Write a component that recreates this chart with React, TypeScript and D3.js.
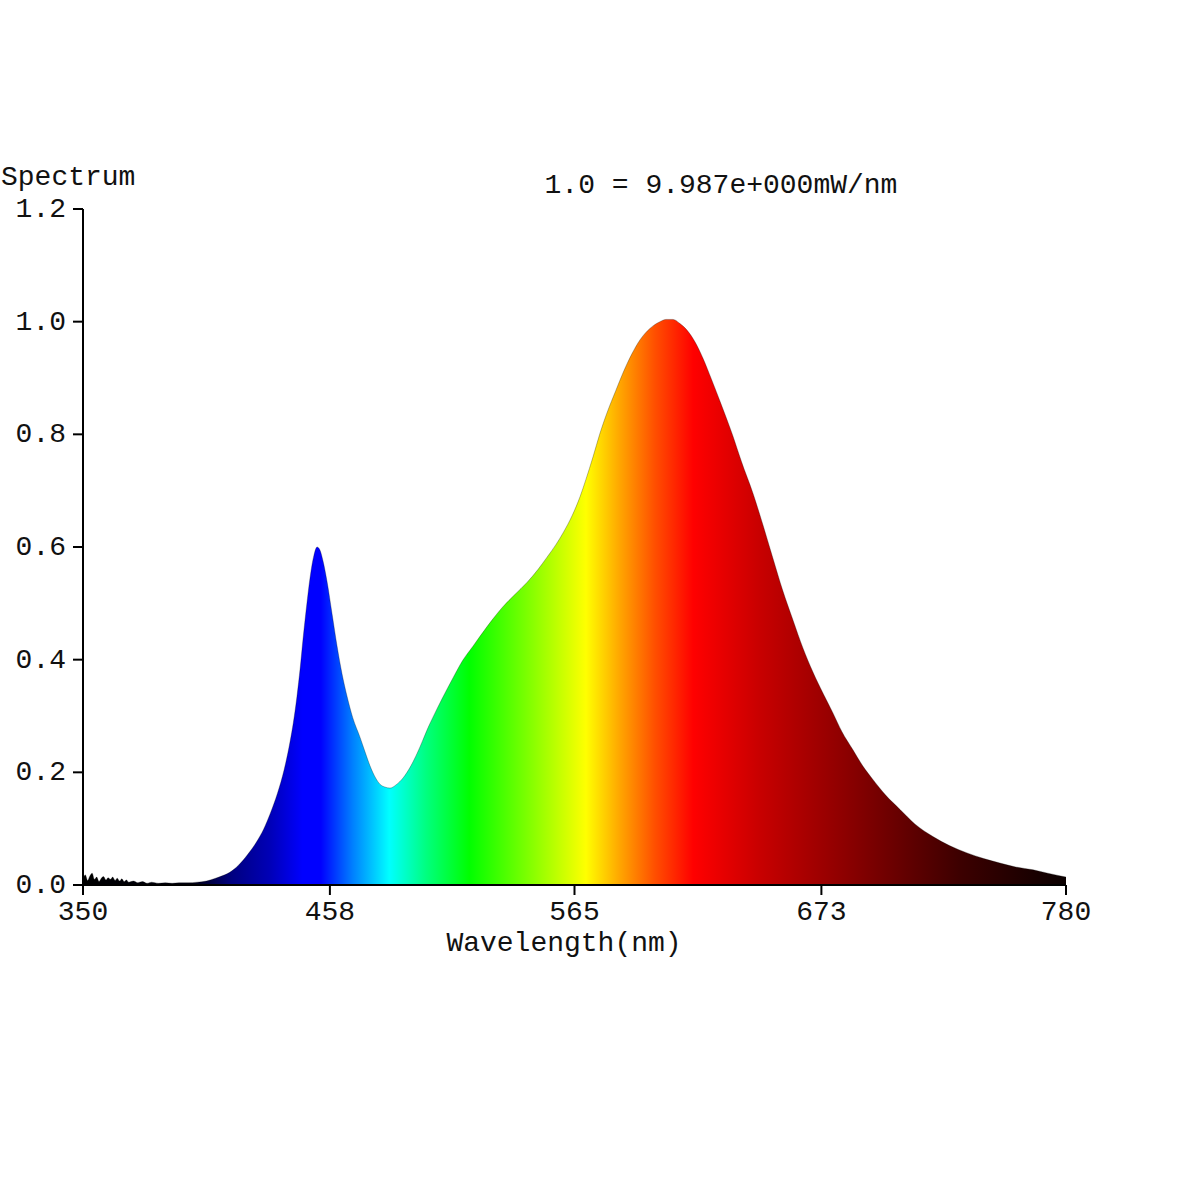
import React from "react";
import * as d3 from "d3";

const wavelengths: number[] = [
  350, 351, 352, 353, 354, 355, 356, 357, 358, 359, 360, 361, 362, 363, 364, 365, 366, 367, 368, 369, 370,
  372, 374, 376, 378, 380, 383, 386, 389, 392, 396, 400, 404, 408, 412, 414, 418, 422, 426, 429, 432, 435,
  438, 440.6, 442, 443.6, 445, 446.2, 447.8, 449.3, 451, 452.4, 453.6, 455, 456.7, 459, 461.1, 463.3, 465.5,
  468, 471.2, 473.4, 475.5, 478, 479.9, 482, 484.3, 487, 490, 493.5, 497.4, 501, 503.1, 507, 511.9, 516,
  520.6, 527, 533.7, 539, 544.2, 549, 553, 557, 560, 564, 567.4, 570, 573.1, 576, 579.2, 583, 586.2, 590,
  593.7, 598, 602.4, 605, 608.1, 611, 614.2, 618, 621.2, 625, 629, 634.3, 638, 643.1, 647, 651.8, 656,
  660.6, 665, 669.3, 674, 678.1, 682, 686.8, 691, 695.6, 701, 707.4, 714, 721.8, 729, 736.7, 744, 751.1,
  758, 765.6, 772, 780,
];

const intensity: number[] = [
  0.010, 0.018, 0.008, 0.016, 0.021, 0.010, 0.014, 0.006, 0.012, 0.015, 0.009, 0.013, 0.010, 0.014, 0.008,
  0.012, 0.007, 0.011, 0.006, 0.009, 0.005,
  0.007, 0.004, 0.006, 0.003, 0.005, 0.003, 0.004, 0.003, 0.004, 0.004, 0.005, 0.007, 0.012, 0.018, 0.022,
  0.035, 0.054, 0.077, 0.099, 0.128, 0.162,
  0.205, 0.255, 0.288, 0.335, 0.385, 0.435, 0.495, 0.545, 0.585, 0.600, 0.595, 0.575, 0.540, 0.480, 0.425,
  0.375, 0.335,
  0.297, 0.262, 0.236, 0.212, 0.190, 0.179, 0.174, 0.172, 0.178, 0.190, 0.212, 0.245, 0.280, 0.298, 0.330,
  0.368, 0.398,
  0.424, 0.460, 0.494, 0.516, 0.537, 0.560, 0.582, 0.605, 0.625, 0.656, 0.689, 0.720, 0.760, 0.800, 0.838,
  0.877, 0.909, 0.942,
  0.968, 0.988, 1.000, 1.004, 1.004, 0.997, 0.985, 0.962, 0.935, 0.897, 0.855, 0.797, 0.752, 0.695, 0.645,
  0.580, 0.524,
  0.470, 0.420, 0.378, 0.338, 0.305, 0.272, 0.240, 0.212, 0.187, 0.160, 0.134, 0.108, 0.086, 0.070, 0.057,
  0.047, 0.039,
  0.032, 0.027, 0.021, 0.014,
];

const xTicks: number[] = [350, 458, 565, 673, 780];
const yTicks: number[] = [0.0, 0.2, 0.4, 0.6, 0.8, 1.0, 1.2];

const colorStopWl: number[] = [350, 398, 415, 432, 446, 454, 468, 484, 500, 519, 545, 570, 585, 600, 617, 646, 690, 734, 780];
const colorStopHex: string[] = [
  "#000000", "#000010", "#000080", "#0000b8", "#0000ff", "#0000ff", "#0080ff", "#00ffff", "#00ff80",
  "#00ff00", "#80ff00", "#ffff00", "#ffa500", "#ff5000", "#ff0000", "#c80000", "#820000", "#3c0000", "#0a0000",
];

const titleText = "1.0 = 9.987e+000mW/nm";
const yLabel = "Spectrum";
const xLabel = "Wavelength(nm)";

export default function App() {
  const W = 1200;
  const H = 1200;
  const x = d3.scaleLinear().domain([350, 780]).range([83, 1066]);
  const y = d3.scaleLinear().domain([0, 1.2]).range([885, 209]);
  const data = wavelengths.map((w, i) => ({ w, v: intensity[i] }));
  const area = d3
    .area<{ w: number; v: number }>()
    .x((d) => x(d.w))
    .y0(y(0))
    .y1((d) => y(d.v))
    .curve(d3.curveMonotoneX);
  const line = d3
    .line<{ w: number; v: number }>()
    .x((d) => x(d.w))
    .y((d) => y(d.v))
    .curve(d3.curveMonotoneX);
  const font = "'Liberation Mono', 'Courier New', monospace";
  const fs = 28;
  return (
    <svg width={W} height={H} style={{ position: "absolute", left: 0, top: 0, background: "#fff" }}>
      <defs>
        <linearGradient id="spec" gradientUnits="userSpaceOnUse" x1={x(350)} x2={x(780)} y1={0} y2={0}>
          {colorStopWl.map((w, i) => (
            <stop key={i} offset={(w - 350) / (780 - 350)} stopColor={colorStopHex[i]} />
          ))}
        </linearGradient>
      </defs>
      <rect x={0} y={0} width={W} height={H} fill="#fff" />
      <path d={area(data) || ""} fill="url(#spec)" />
      <path d={line(data) || ""} fill="none" stroke="rgba(0,0,0,0.35)" strokeWidth={0.8} />
      <line x1={x(350)} x2={x(780)} y1={y(0)} y2={y(0)} stroke="#000" strokeWidth={2} />
      <line x1={x(350)} x2={x(350)} y1={y(0)} y2={y(1.2)} stroke="#000" strokeWidth={2} />
      {xTicks.map((t) => (
        <g key={"x" + t}>
          <line x1={x(t)} x2={x(t)} y1={y(0)} y2={y(0) + 10} stroke="#000" strokeWidth={2} />
          <text x={x(t)} y={920} textAnchor="middle" fontFamily={font} fontSize={fs} fill="#111">
            {t}
          </text>
        </g>
      ))}
      {yTicks.map((t) => (
        <g key={"y" + t}>
          <line x1={x(350) - 10} x2={x(350)} y1={y(t)} y2={y(t)} stroke="#000" strokeWidth={2} />
          <text x={66} y={y(t) + 8} textAnchor="end" fontFamily={font} fontSize={fs} fill="#111">
            {t.toFixed(1)}
          </text>
        </g>
      ))}
      <text x={1} y={185} fontFamily={font} fontSize={fs} fill="#111">
        {yLabel}
      </text>
      <text x={564} y={951} textAnchor="middle" fontFamily={font} fontSize={fs} fill="#111">
        {xLabel}
      </text>
      <text x={721} y={193} textAnchor="middle" fontFamily={font} fontSize={fs} fill="#111">
        {titleText}
      </text>
    </svg>
  );
}
